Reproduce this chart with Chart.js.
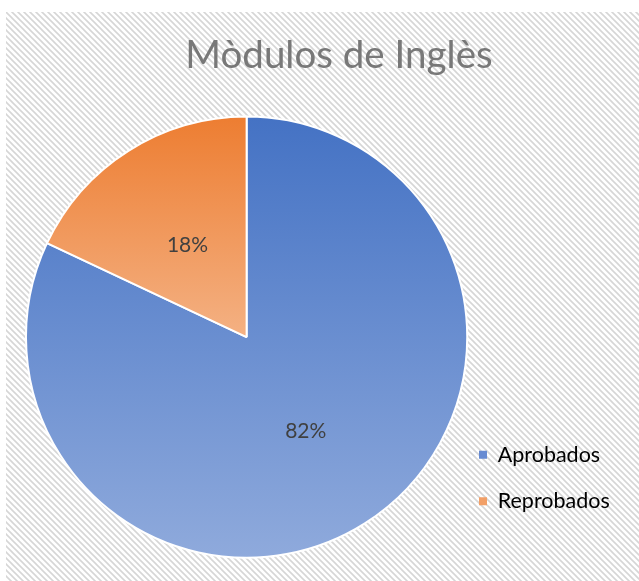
<!DOCTYPE html>
<html>
<head>
<meta charset="utf-8">
<script src="https://cdn.jsdelivr.net/npm/chart.js@4/dist/chart.umd.min.js"></script>
<style>
html,body{margin:0;padding:0;background:#fff;}
#wrap{width:639px;height:581px;position:relative;}
</style>
</head>
<body>
<div id="wrap"><canvas id="c" width="639" height="581"></canvas></div>
<script>
const categories = ['Aprobados', 'Reprobados'];
const values = [82, 18];
const titleText = 'Mòdulos de Inglès';

const topColors = ['#4472C4', '#ED7D31'];
const bottomColors = ['#8FAADC', '#F4B183'];
const legendColors = ['#678BD2', '#F2A068'];

const FONT = 'Lato, "Liberation Sans", sans-serif';

function makePattern(ctx) {
  const t = document.createElement('canvas');
  t.width = 6; t.height = 6;
  const g = t.getContext('2d');
  g.fillStyle = '#ffffff';
  g.fillRect(0, 0, 6, 6);
  g.strokeStyle = '#d6d6d6';
  g.lineWidth = 1.6;
  g.beginPath();
  g.moveTo(-1, -1); g.lineTo(7, 7);
  g.moveTo(-7, -1); g.lineTo(1, 7);
  g.moveTo(5, -1); g.lineTo(13, 7);
  g.stroke();
  return ctx.createPattern(t, 'repeat');
}

const bgPlugin = {
  id: 'bgHatch',
  beforeDraw(chart) {
    const ctx = chart.ctx;
    ctx.save();
    ctx.fillStyle = '#ffffff';
    ctx.fillRect(0, 0, chart.width, chart.height);
    ctx.fillStyle = makePattern(ctx);
    ctx.fillRect(6, 12, chart.width - 6, chart.height - 12);
    ctx.restore();
  }
};

// fine placement of title and legend boxes after Chart.js layout
const placePlugin = {
  id: 'placeBoxes',
  afterLayout(chart) {
    const tb = chart.titleBlock;
    if (tb) {
      const dx = 339 - (tb.left + tb.right) / 2;
      tb.left += dx; tb.right += dx;
    }
    const lg = chart.legend;
    if (lg) {
      const pad = lg.options.labels.padding;
      const dx = (479 - pad) - lg.left;
      lg.left += dx; lg.right += dx;
      const dy = 537 - lg.bottom;
      lg.top += dy; lg.bottom += dy;
    }
  }
};

const labelPlugin = {
  id: 'sliceLabels',
  afterDatasetsDraw(chart) {
    const ctx = chart.ctx;
    const meta = chart.getDatasetMeta(0);
    const ds = chart.data.datasets[0];
    const total = ds.data.reduce((a, b) => a + b, 0);
    ctx.save();
    ctx.font = '21px ' + FONT;
    ctx.fillStyle = '#404040';
    ctx.textAlign = 'center';
    ctx.textBaseline = 'middle';
    meta.data.forEach((arc, i) => {
      const p = arc.tooltipPosition();
      const pct = Math.round(ds.data[i] / total * 100) + '%';
      ctx.fillText(pct, p.x, p.y + 1);
    });
    ctx.restore();
  }
};

function sliceGradient(context) {
  const chart = context.chart;
  const ca = chart.chartArea;
  const i = context.dataIndex;
  if (!ca) return topColors[i];
  const cy = (ca.top + ca.bottom) / 2;
  const r = Math.min(ca.right - ca.left, ca.bottom - ca.top) / 2;
  const y0 = cy - r;
  const y1 = i === 0 ? cy + r : cy;
  const g = chart.ctx.createLinearGradient(0, y0, 0, y1);
  g.addColorStop(0, topColors[i]);
  g.addColorStop(1, bottomColors[i]);
  return g;
}

new Chart(document.getElementById('c'), {
  type: 'pie',
  data: {
    labels: categories,
    datasets: [{
      data: values,
      backgroundColor: sliceGradient,
      borderColor: '#ffffff',
      borderWidth: 2
    }]
  },
  options: {
    responsive: false,
    animation: false,
    layout: { padding: { left: 25, right: 5, top: 0, bottom: 21 } },
    plugins: {
      tooltip: { enabled: false },
      title: {
        display: true,
        text: titleText,
        color: '#787878',
        font: { family: FONT, size: 38.5, weight: 'normal' },
        padding: { top: 32, bottom: 36 }
      },
      legend: {
        position: 'right',
        align: 'end',
        labels: {
          color: '#595959',
          font: { family: FONT, size: 21.5 },
          boxWidth: 8,
          boxHeight: 8,
          padding: 25,
          generateLabels(chart) {
            return chart.data.labels.map((l, i) => ({
              text: l,
              fillStyle: legendColors[i],
              strokeStyle: legendColors[i],
              lineWidth: 0,
              index: i,
              hidden: false
            }));
          }
        }
      }
    }
  },
  plugins: [bgPlugin, placePlugin, labelPlugin]
});
</script>
</body>
</html>
